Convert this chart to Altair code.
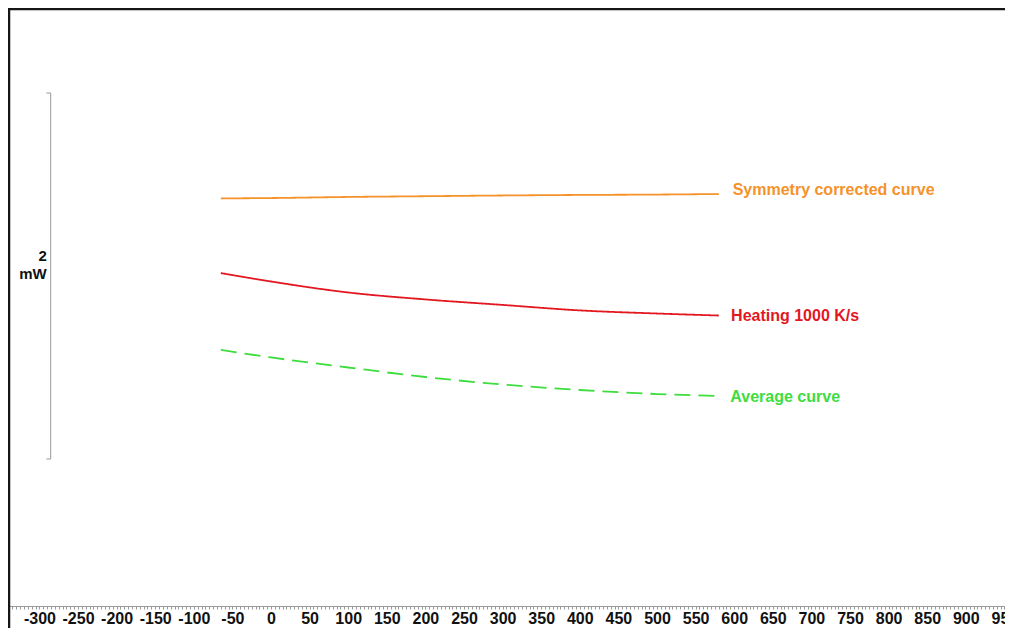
import altair as alt
import pandas as pd

# ---- data ----
temps = [-65, 0, 100, 200, 300, 400, 500, 580]
symmetry_mw = [1.424, 1.426, 1.432, 1.436, 1.440, 1.443, 1.445, 1.448]
heating_mw = [1.016, 0.970, 0.910, 0.872, 0.842, 0.812, 0.795, 0.784]
average_mw = [0.596, 0.555, 0.500, 0.448, 0.407, 0.377, 0.355, 0.344]

series_names = ["Symmetry corrected curve", "Heating 1000 K/s", "Average curve"]
series_colors = ["#F5922A", "#E3171F", "#3EDD3E"]
series_dash = [[1, 0], [1, 0], [16, 8]]
label_temps = [598, 596, 595]
label_mw = [1.470, 0.781, 0.339]

tick_values = list(range(-340, 951, 5))

scale_bar_temp = -285.4
scale_bar_hook_temp = -291.0
scale_bar_mw = [0, 2]
scale_bar_text = ["2", "mW"]
scale_bar_text_mw = [1.11, 1.01]
scale_bar_text_temp = -290.5

x_domain = [-340.7, 950.8]
y_domain = [-0.8033, 2.4645]

FONT = "Liberation Sans"

# ---- tables ----
rows = []
for name, vals in zip(series_names, [symmetry_mw, heating_mw, average_mw]):
    for t, v in zip(temps, vals):
        rows.append({"t": t, "mw": v, "series": name})
df_lines = pd.DataFrame(rows)

df_labels = pd.DataFrame({"t": label_temps, "mw": label_mw, "series": series_names})
df_bar = pd.DataFrame({"t": [scale_bar_temp], "lo": [scale_bar_mw[0]], "hi": [scale_bar_mw[1]]})
df_hooks = pd.DataFrame({"t": [scale_bar_hook_temp] * 2, "t2": [scale_bar_temp] * 2, "mw": scale_bar_mw})
df_bar_text = pd.DataFrame({"t": [scale_bar_text_temp] * 2, "mw": scale_bar_text_mw, "txt": scale_bar_text})
df_one = pd.DataFrame({"a": [0]})

xscale = alt.Scale(domain=x_domain, nice=False, zero=False)
yscale = alt.Scale(domain=y_domain, nice=False, zero=False)

x_enc = alt.X(
    "t:Q",
    scale=xscale,
    axis=alt.Axis(
        values=tick_values,
        labelExpr="datum.value % 50 === 0 ? '' + datum.value : ''",
        title=None,
        grid=False,
        domainColor="#9a9a9a",
        tickColor="#9a9a9a",
        tickSize=3,
        labelFont=FONT,
        labelFontSize=16,
        labelFontWeight="bold",
        labelColor="#111111",
        labelOverlap=False,
        labelBound=False,
        labelFlush=False,
        labelPadding=1,
    ),
)
y_enc = alt.Y("mw:Q", scale=yscale, axis=None)

color_scale = alt.Scale(domain=series_names, range=series_colors)

lines = alt.Chart(df_lines).mark_line(strokeWidth=1.8, interpolate="monotone").encode(
    x=x_enc,
    y=y_enc,
    color=alt.Color("series:N", scale=color_scale, legend=None),
    strokeDash=alt.StrokeDash(
        "series:N", scale=alt.Scale(domain=series_names, range=series_dash), legend=None
    ),
)

labels = alt.Chart(df_labels).mark_text(
    align="left", baseline="middle", font=FONT, fontSize=16, fontWeight="bold"
).encode(
    x=x_enc,
    y=y_enc,
    text="series:N",
    color=alt.Color("series:N", scale=color_scale, legend=None),
)

bar = alt.Chart(df_bar).mark_rule(color="#9a9a9a", strokeWidth=1).encode(
    x=x_enc, y=alt.Y("lo:Q", scale=yscale, axis=None), y2="hi:Q"
)
hooks = alt.Chart(df_hooks).mark_rule(color="#9a9a9a", strokeWidth=1).encode(
    x=x_enc, x2="t2:Q", y=y_enc
)
bar_text = alt.Chart(df_bar_text).mark_text(
    align="right", baseline="middle", font=FONT, fontSize=15, fontWeight="bold", color="#111111"
).encode(x=x_enc, y=y_enc, text="txt:N")

border_top = alt.Chart(df_one).mark_rule(color="#161616", strokeWidth=2.5).encode(
    x=alt.value(0), x2=alt.value(997), y=alt.value(1)
)
border_left = alt.Chart(df_one).mark_rule(color="#161616", strokeWidth=2.5).encode(
    x=alt.value(1), y=alt.value(0), y2=alt.value(620)
)

chart = (
    alt.layer(lines, labels, bar, hooks, bar_text, border_top, border_left)
    .properties(
        width=997,
        height=598,
        autosize=alt.AutoSizeParams(type="none"),
        padding={"left": 0, "top": 0, "right": 0, "bottom": 22},
        background="white",
    )
    .configure_view(stroke=None)
)

chart.save("out.html", embed_options={"renderer": "svg", "actions": False})
